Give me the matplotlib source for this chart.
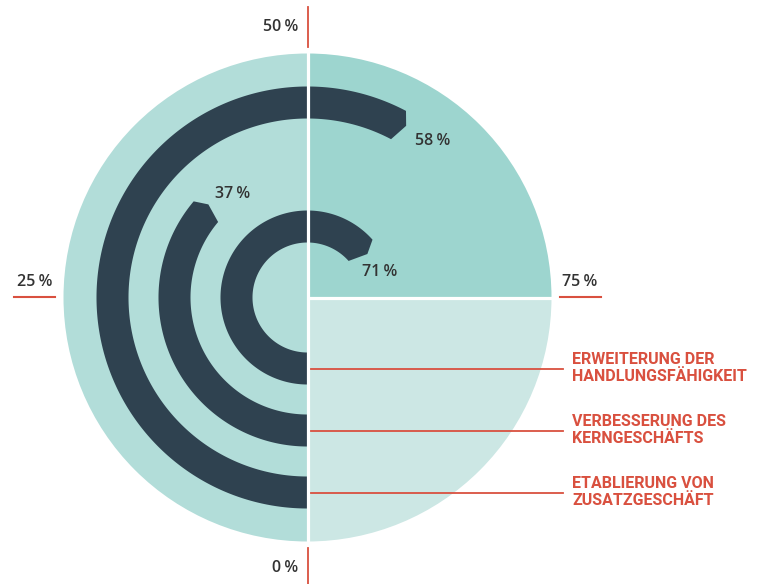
import numpy as np
import matplotlib.pyplot as plt
from matplotlib.patches import Wedge, Polygon

W, H = 762, 584

# data
goals = ["ERWEITERUNG DER\nHANDLUNGSFÄHIGKEIT",
         "VERBESSERUNG DES\nKERNGESCHÄFTS",
         "ETABLIERUNG VON\nZUSATZGESCHÄFT"]
shares = [71, 37, 58]            # printed values (inner -> outer)
arc_ends = [0.65, 0.37, 0.583]   # how far each arc is drawn
scale_ticks = [0, 25, 50, 75]

# colours
c_left = "#b2ddd9"
c_topright = "#9dd5cf"
c_botright = "#cce7e4"
c_dark = "#2f4250"
c_red = "#d9503f"
c_text = "#333333"

# layout (pixel coords, y measured from top)
cx, cy_top = 307.5, 297.5
cy = H - cy_top
R = 244
ring_mid = [71, 133, 195]
half_w = 16


def ypx(y):
    return H - y


def ang(p):
    # 0 at bottom, clockwise
    return 270 - 360 * p


def arc_shape(p, rm, hw=half_w, n=300):
    a0 = np.radians(270)
    a1 = np.radians(ang(p))
    back = 7.0 / rm
    t = np.linspace(a0, a1 + back, n)
    outer = np.c_[cx + (rm + hw) * np.cos(t), cy + (rm + hw) * np.sin(t)]
    inner = np.c_[cx + (rm - hw) * np.cos(t), cy + (rm - hw) * np.sin(t)]
    tip = [[cx + (rm + 3) * np.cos(a1), cy + (rm + 3) * np.sin(a1)]]
    return np.vstack([outer, tip, inner[::-1]])


def pct(v):
    return f"{v}\u2009%"


fig = plt.figure(figsize=(W / 100, H / 100), dpi=100)
ax = fig.add_axes([0, 0, 1, 1])
ax.set_xlim(0, W)
ax.set_ylim(0, H)
ax.axis("off")

# background quadrants
ax.add_patch(Wedge((cx, cy), R, 90, 270, color=c_left, lw=0))
ax.add_patch(Wedge((cx, cy), R, 0, 90, color=c_topright, lw=0))
ax.add_patch(Wedge((cx, cy), R, 270, 360, color=c_botright, lw=0))

# dark arcs
for p, rm in zip(arc_ends, ring_mid):
    ax.add_patch(Polygon(arc_shape(p, rm), closed=True, color=c_dark, lw=0, zorder=3))

# white gaps
ax.plot([cx, cx], [cy - R - 2, cy + R + 2], color="white", lw=2.3, zorder=4,
        solid_capstyle="butt")
ax.plot([cx, cx + R + 2], [cy, cy], color="white", lw=2.3, zorder=4,
        solid_capstyle="butt")

# scale ticks
ax.plot([cx, cx], [ypx(7), ypx(47)], color=c_red, lw=1.3)
ax.plot([cx, cx], [ypx(548), ypx(584)], color=c_red, lw=1.3)
ax.plot([14, 55], [ypx(296.5), ypx(296.5)], color=c_red, lw=1.5)
ax.plot([560, 601], [ypx(296.5), ypx(296.5)], color=c_red, lw=1.5)

num_font = dict(family=["Open Sans", "DejaVu Sans"], fontweight="semibold",
                fontsize=11.5, color=c_text)
ax.text(298, ypx(27), pct(scale_ticks[2]), ha="right", va="center", **num_font)
ax.text(298, ypx(568), pct(scale_ticks[0]), ha="right", va="center", **num_font)
ax.text(35, ypx(282), pct(scale_ticks[1]), ha="center", va="center", **num_font)
ax.text(580, ypx(282), pct(scale_ticks[3]), ha="center", va="center", **num_font)

# value labels at the arc ends
label_pos = [(380, 272), (233, 194), (433, 141)]
for v, (lx, ly) in zip(shares, label_pos):
    ax.text(lx, ypx(ly), pct(v), ha="center", va="center", **num_font)

# leader lines and goal names
for g, rm in zip(goals, ring_mid):
    yy = cy - rm
    ax.plot([cx + 3, 563], [yy, yy], color=c_red, lw=1.3, zorder=5)
    ax.text(572, yy + 0.5, g, ha="left", va="center", family="Roboto",
            fontweight="bold", fontsize=11.5, color=c_red, linespacing=1.2)

fig.savefig("out.png", dpi=100)
